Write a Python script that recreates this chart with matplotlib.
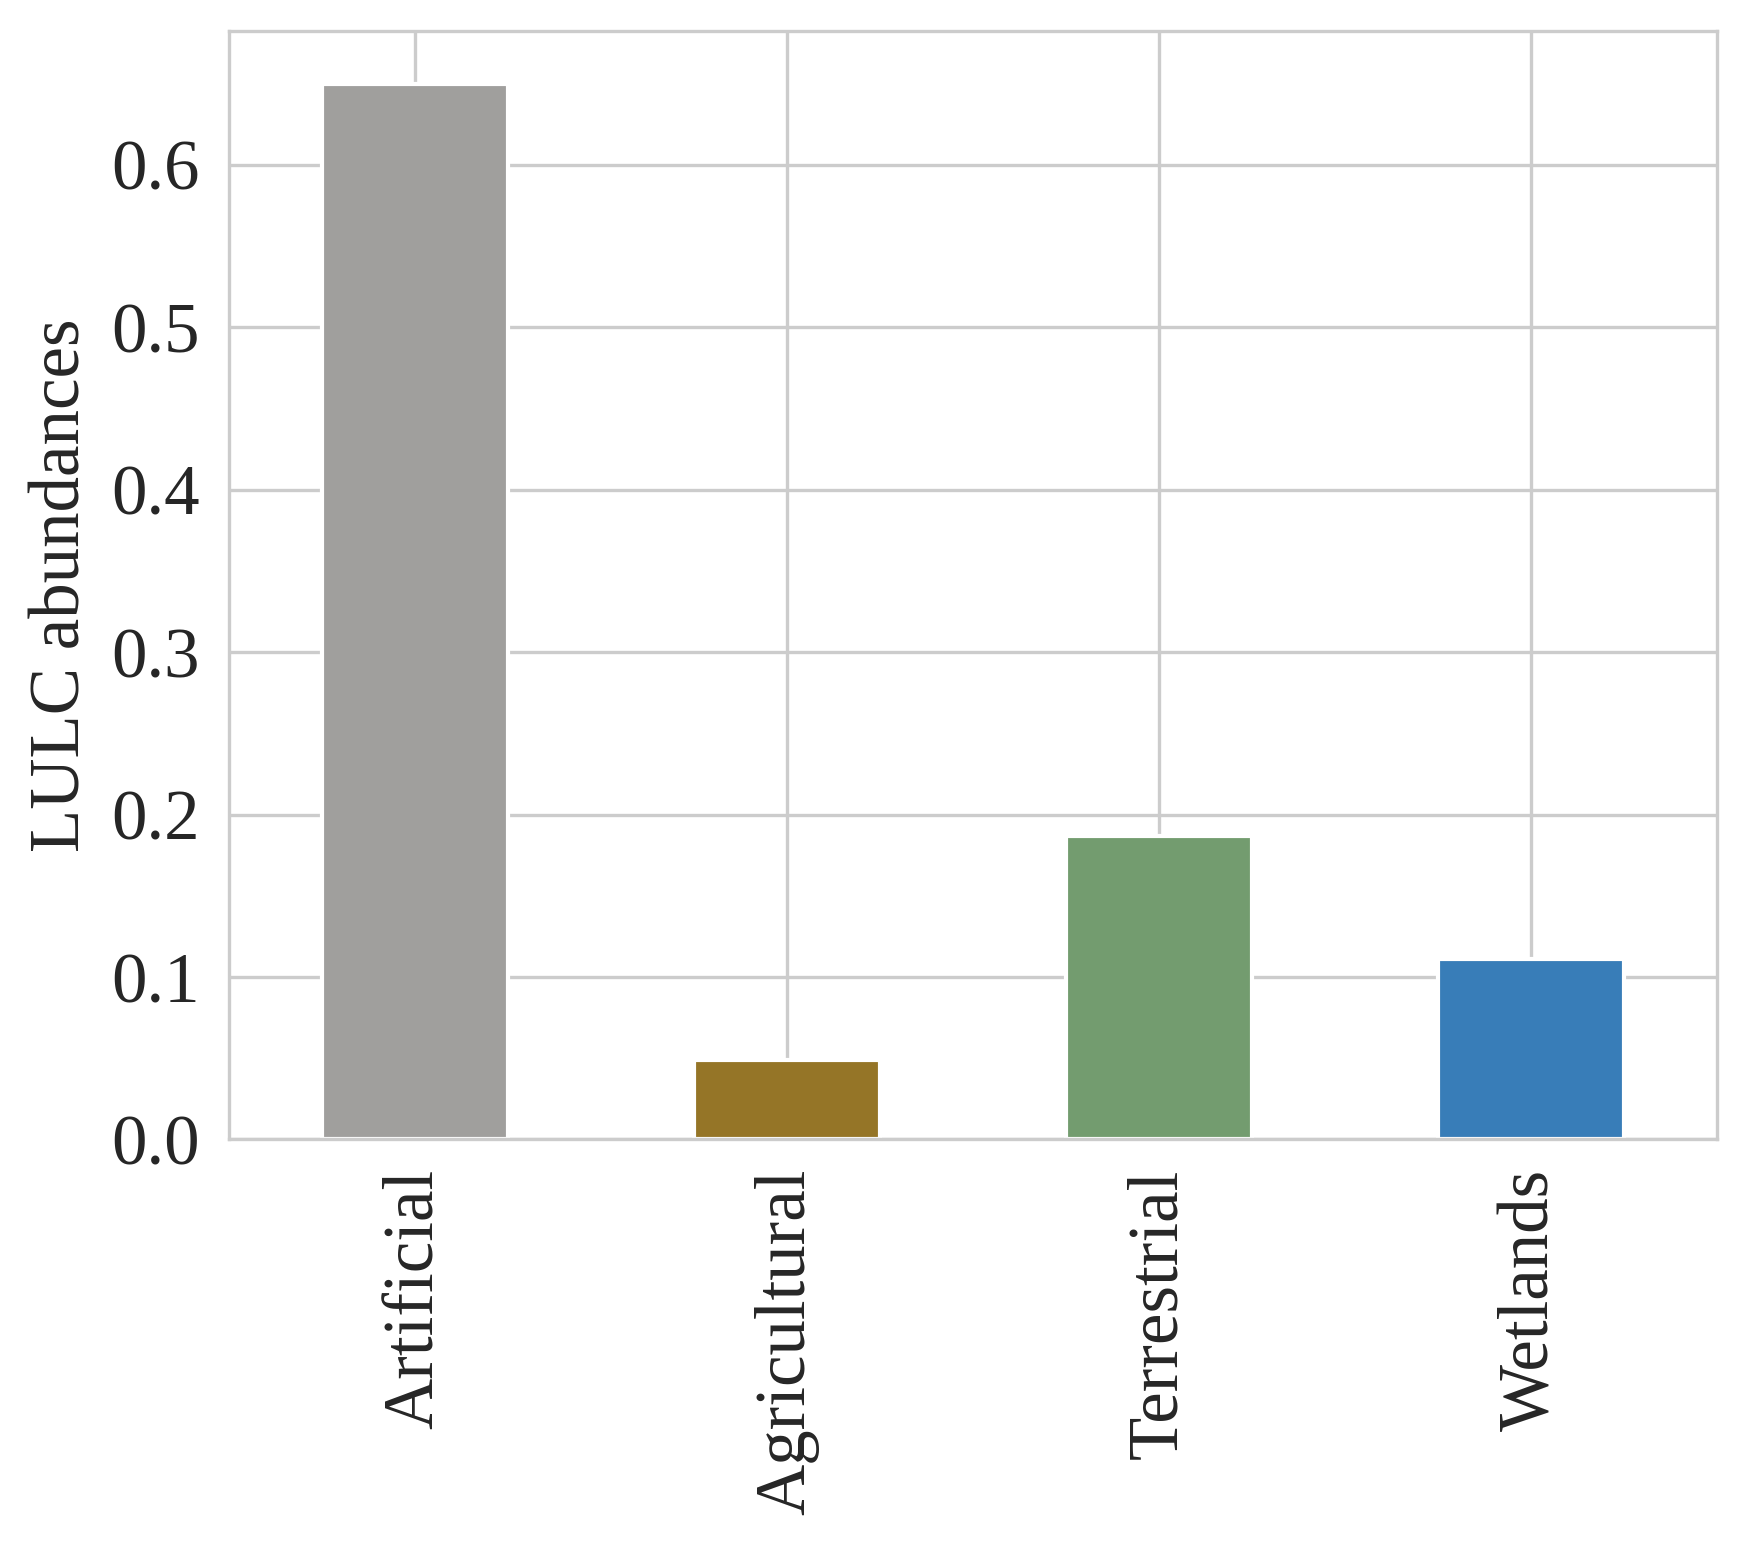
import matplotlib
matplotlib.use("Agg")
import matplotlib.pyplot as plt
import seaborn as sns
import numpy as np

categories = ["Artificial", "Agricultural", "Terrestrial", "Wetlands"]
values = [0.650, 0.049, 0.187, 0.111]
colors = ["#a09f9d", "#957527", "#739c6f", "#387db8"]

sns.set_style("whitegrid")
plt.rcParams["font.family"] = ["Liberation Serif", "DejaVu Serif"]

fig, ax = plt.subplots(figsize=(1747 / 300, 1544 / 300), dpi=300)
fig.subplots_adjust(left=0.131, right=0.983, top=0.980, bottom=0.262)

x = np.arange(len(categories))
ax.bar(x, values, width=0.5, color=colors, edgecolor="white", linewidth=1.0)
ax.set_xlim(-0.5, len(categories) - 0.5)
ax.set_ylim(0, max(values) * 1.05)
ax.set_xticks(x)
ax.set_xticklabels(categories, rotation=90, fontsize=17)
ax.set_yticks([0.0, 0.1, 0.2, 0.3, 0.4, 0.5, 0.6])
ax.set_yticklabels([f"{v:.1f}" for v in ax.get_yticks()], fontsize=17)
ax.set_ylabel("LULC abundances", fontsize=17)

fig.savefig("out.png", dpi=300)
